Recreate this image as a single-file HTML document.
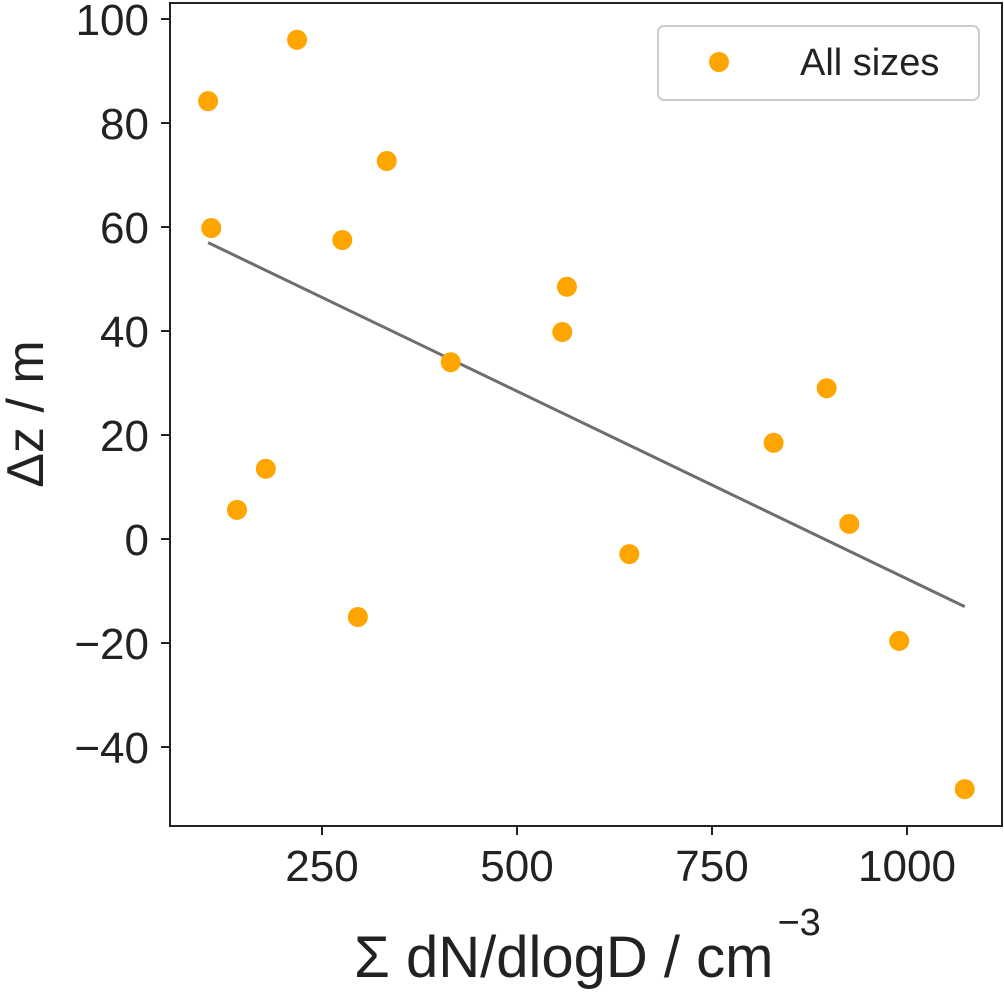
<!DOCTYPE html>
<html><head><meta charset="utf-8"><style>
body{margin:0;background:#fff}
svg text{font-family:"Liberation Sans","DejaVu Sans",sans-serif;fill:#222}
</style></head><body>
<svg id="chart" width="1004" height="989" xmlns="http://www.w3.org/2000/svg"></svg>
<script>
const xValues=[104,218,108,333,276,564,558,415,178,141,296,644,829,897,926,990,1074];
const yValues=[84.2,96,59.8,72.7,57.5,48.5,39.8,34,13.5,5.6,-15,-2.9,18.5,29,2.9,-19.6,-48.1];
const xTicks=[250,500,750,1000];
const yTicks=[-40,-20,0,20,40,60,80,100];
const fitLine=[[104,57],[1074,-13]];
const L=170,R=1002,T=3,B=826;
const sx=v=>127+v*0.78;
const sy=v=>539-v*5.2;
const svg=document.getElementById('chart');
const NS='http://www.w3.org/2000/svg';
function mk(tag,attrs,parent){const e=document.createElementNS(NS,tag);for(const k in attrs)e.setAttribute(k,attrs[k]);(parent||svg).appendChild(e);return e;}
const frame=mk('rect',{x:L,y:T,width:R-L,height:B-T,fill:'none',stroke:'#222','stroke-width':2});


xTicks.forEach(t=>{
  const l=mk('line',{x1:sx(t),x2:sx(t),y1:B,y2:B+9,stroke:'#222','stroke-width':2});
  
  
  const tx=mk('text',{x:sx(t),y:B+55,'text-anchor':'middle','font-size':44});
  tx.textContent=t;
  
  
});
yTicks.forEach(t=>{
  const l=mk('line',{x1:L-9,x2:L,y1:sy(t),y2:sy(t),stroke:'#222','stroke-width':2});
  
  
  const tx=mk('text',{x:L-21,y:sy(t)+16,'text-anchor':'end','font-size':44});
  tx.textContent=t<0?'\u2212'+Math.abs(t):t;
  
  
});
const fl=mk('line',{x1:sx(fitLine[0][0]),y1:sy(fitLine[0][1]),x2:sx(fitLine[1][0]),y2:sy(fitLine[1][1]),stroke:'#6e6e6e','stroke-width':3});


xValues.forEach((x,i)=>{
  const c=mk('circle',{cx:sx(x),cy:sy(yValues[i]),r:10,fill:'#ffa500'});
  
  
});
const lg=mk('g',{});


mk('rect',{x:658,y:26,width:321,height:74,rx:6,fill:'#fff',stroke:'#ccc','stroke-width':2},lg);
mk('circle',{cx:719,cy:62,r:10,fill:'#ffa500'},lg);
const lt=mk('text',{x:800,y:75,'font-size':38},lg);lt.textContent='All sizes';
const xt=mk('text',{x:354,y:977,'text-anchor':'start','font-size':58});
xt.innerHTML='\u03A3 dN/dlogD / cm<tspan dx="4" dy="-42" font-size="38">\u22123</tspan>';


const yt=mk('text',{x:0,y:0,'text-anchor':'middle','font-size':52,transform:'translate(43,414) rotate(-90)'});
yt.textContent='\u0394z / m';


</script>
</body></html>
